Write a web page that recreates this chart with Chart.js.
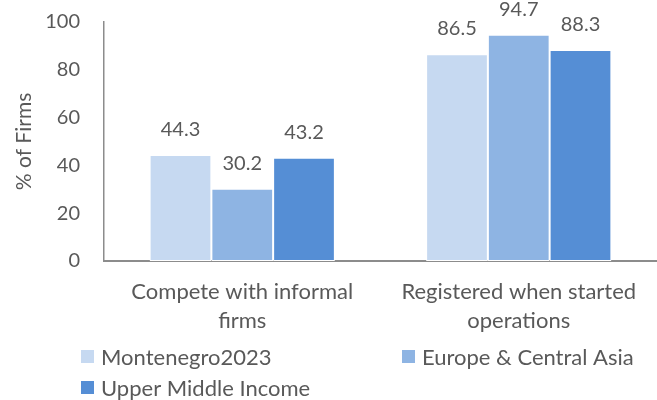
<!DOCTYPE html>
<html>
<head>
<meta charset="utf-8">
<script src="https://cdn.jsdelivr.net/npm/chart.js@4/dist/chart.umd.min.js"></script>
<style>
  html, body { margin: 0; padding: 0; background: #ffffff; }
  #wrap { width: 657px; height: 400px; position: relative; }
</style>
</head>
<body>
<div id="wrap"><canvas id="c" width="657" height="400"></canvas></div>
<script>
const categories = [
  ['Compete with informal', 'firms'],
  ['Registered when started', 'operations']
];
const seriesNames = ['Montenegro2023', 'Europe & Central Asia', 'Upper Middle Income'];
const montenegro = [44.3, 86.5];
const europeCentralAsia = [30.2, 94.7];
const upperMiddleIncome = [43.2, 88.3];
const yTicks = [0, 20, 40, 60, 80, 100];
const colors = ['#c6d9f1', '#8eb4e3', '#558ed5'];

const FONT = 'Lato, "Open Sans", sans-serif';
const TEXT = '#595959';

const valueLabels = {
  id: 'valueLabels',
  afterDatasetsDraw(chart) {
    const ctx = chart.ctx;
    ctx.save();
    ctx.font = '20px ' + FONT;
    ctx.fillStyle = TEXT;
    ctx.textAlign = 'center';
    ctx.textBaseline = 'alphabetic';
    chart.data.datasets.forEach((ds, i) => {
      const meta = chart.getDatasetMeta(i);
      meta.data.forEach((bar, j) => {
        ctx.fillText(ds.data[j].toFixed(1), bar.x, bar.y - 19);
      });
    });
    ctx.restore();
  }
};

const gridLegend = {
  id: 'gridLegend',
  afterDraw(chart) {
    const ctx = chart.ctx;
    ctx.save();
    ctx.font = '22px ' + FONT;
    ctx.textBaseline = 'middle';
    ctx.textAlign = 'left';
    const cols = [81, 402];
    const rows = [357, 388];
    chart.data.datasets.forEach((ds, i) => {
      const cx = cols[i % 2];
      const cy = rows[Math.floor(i / 2)];
      ctx.fillStyle = ds.backgroundColor;
      ctx.fillRect(cx, cy - 7, 13, 13);
      ctx.fillStyle = TEXT;
      ctx.fillText(ds.label, cx + 20, cy + 1);
    });
    ctx.restore();
  }
};

const seriesData = [montenegro, europeCentralAsia, upperMiddleIncome];

new Chart(document.getElementById('c'), {
  type: 'bar',
  data: {
    labels: categories,
    datasets: seriesNames.map((name, i) => ({
      label: name,
      data: seriesData[i],
      backgroundColor: colors[i],
      borderColor: '#ffffff',
      borderWidth: 1,
      borderSkipped: false,
      categoryPercentage: 0.67,
      barPercentage: 1.0
    }))
  },
  options: {
    responsive: false,
    animation: false,
    devicePixelRatio: 1,
    layout: { padding: { top: 22, right: 0, bottom: 0, left: 0 } },
    plugins: {
      legend: { display: false },
      tooltip: { enabled: false }
    },
    scales: {
      x: {
        grid: { display: false, drawTicks: false },
        border: { display: true, color: '#8c8c8c', width: 2 },
        ticks: {
          color: TEXT,
          font: { family: FONT, size: 22, lineHeight: 1.3 },
          padding: 17,
          maxRotation: 0,
          autoSkip: false
        },
        afterFit(scale) {
          scale.height = 139;
          scale.paddingLeft = 0;
          scale.paddingRight = 0;
          scale.paddingTop = 0;
          scale.paddingBottom = 0;
        }
      },
      y: {
        min: 0,
        max: 100,
        afterBuildTicks(scale) { scale.ticks = yTicks.map(v => ({ value: v })); },
        grid: { display: false, drawTicks: false },
        border: { display: true, color: '#8c8c8c', width: 1.5 },
        ticks: {
          color: TEXT,
          font: { family: FONT, size: 20 },
          padding: 24
        },
        title: {
          display: true,
          text: '% of Firms',
          color: TEXT,
          font: { family: FONT, size: 21 },
          padding: { top: 12, bottom: 0 }
        },
        afterFit(scale) {
          scale.width = 104;
          scale.paddingTop = 0;
          scale.paddingBottom = 0;
          scale.paddingLeft = 0;
          scale.paddingRight = 0;
        }
      }
    }
  },
  plugins: [valueLabels, gridLegend]
});
</script>
</body>
</html>
